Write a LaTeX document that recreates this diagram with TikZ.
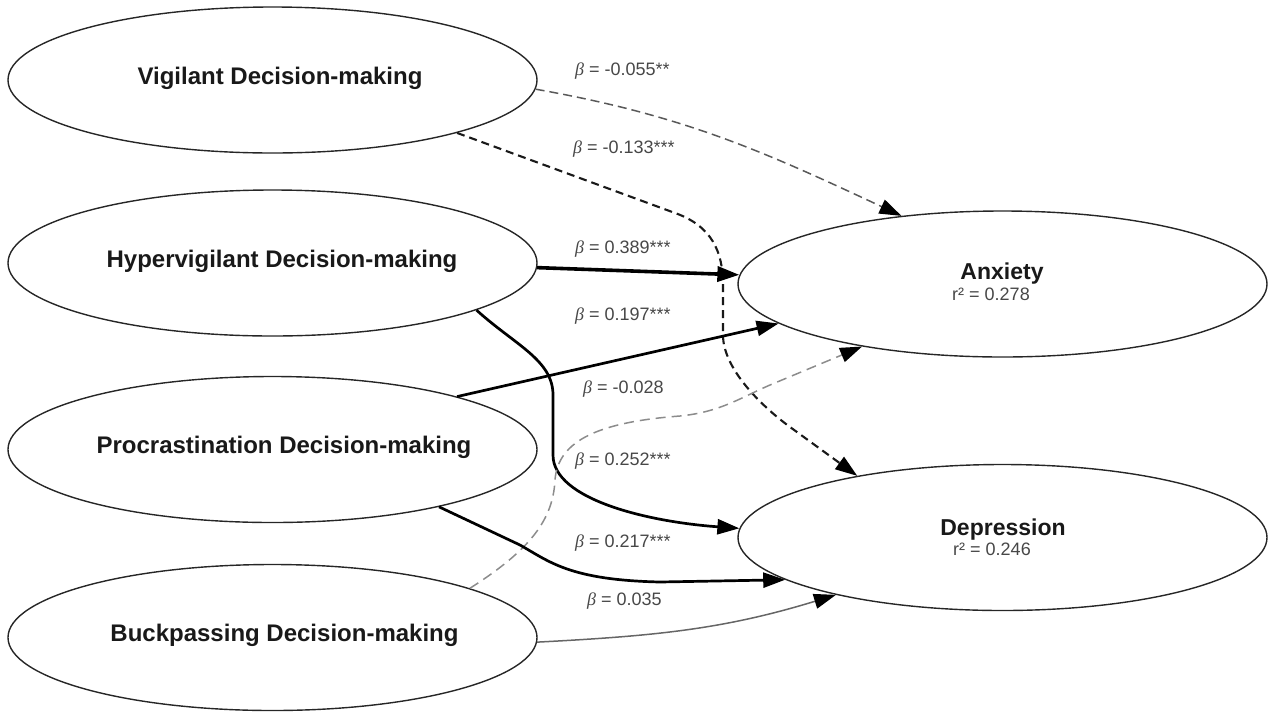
\documentclass[tikz,border=0pt]{standalone}
\usepackage{fontspec}
\setmainfont{Liberation Sans}
\newfontfamily\betafont{Liberation Serif}
\usetikzlibrary{shapes.geometric,arrows.meta}
\newcommand{\bt}{{\betafont\itshape β}}
\begin{document}
\begin{tikzpicture}[x=1pt,y=-1pt,
  ell/.style={draw=black!85, line width=1.4pt, ellipse, minimum width=529pt, minimum height=146pt, inner sep=0pt},
  ttl/.style={font=\fontsize{23}{26}\selectfont\bfseries, text=black!90, inner sep=0pt, anchor=base},
  lttl/.style={ttl, font=\fontsize{24}{26}\selectfont\bfseries},
  rsq/.style={font=\fontsize{18}{20}\selectfont, text=black!72, inner sep=0pt, anchor=base},
  coef/.style={font=\fontsize{18}{20}\selectfont, text=black!72, inner sep=0pt, anchor=base west},
  tipx/.style={-{Triangle[length=22pt,width=15pt,color=black]}},
  heavy/.style={tipx, line width=3.6pt, black},
  thicktwo/.style={tipx, line width=2.7pt, black},
  dashdark/.style={tipx, line width=2.1pt, black!90, dash pattern=on 8pt off 5pt},
  dashgrey/.style={tipx, line width=1.5pt, black!65, dash pattern=on 9pt off 5pt},
  dashlight/.style={tipx, line width=1.5pt, black!45, dash pattern=on 10pt off 6pt},
  thinsolid/.style={tipx, line width=1.5pt, black!60}]
\useasboundingbox (0,0) rectangle (1274,713);

% ellipses
\node[ell] (vig) at (272.5,80) {};
\node[ell] (hyp) at (272.5,263) {};
\node[ell] (pro) at (272.5,449.5) {};
\node[ell] (buc) at (272.5,637.5) {};
\node[ell] (anx) at (1002.5,284) {};
\node[ell] (dep) at (1002.5,537.5) {};

% titles
\node[lttl] (vigt) at (280,84) {Vigilant Decision-making};
\node[lttl] (hypt) at (282,267) {Hypervigilant Decision-making};
\node[lttl] (prot) at (284,453.5) {Procrastination Decision-making};
\node[lttl] (buct) at (284.5,641.5) {Buckpassing Decision-making};
\node[ttl] (anxt) at (1002,279.5) {Anxiety};
\node[rsq] (anxr) at (991,300) {r² = 0.278};
\node[ttl] (dept) at (1003,535) {Depression};
\node[rsq] (depr) at (992,555) {r² = 0.246};

% connectors
\draw[dashgrey] (vig.-2) to[out=-10,in=155] (anx.146);
\draw[dashdark] (vig.-16.5) -- (675,213) .. controls (712,226) and (723,252) .. (723,285) -- (723,335) .. controls (723,368) and (760,405) .. (790,427) -- (dep.157);
\draw[heavy] (hyp.-1) -- (anx.178);
\draw[thicktwo] (hyp.-13) .. controls (515,345) and (553,360) .. (553,395) -- (553,455) .. controls (553,500) and (650,522) .. (dep.178);
\draw[thicktwo] (pro.16) -- (anx.190);
\draw[dashlight] (buc.14) .. controls (530,550) and (553,520) .. (555,480) .. controls (558,440) and (600,422) .. (680,416) .. controls (720,412) and (740,398) .. (770,385) -- (anx.204);
\draw[thicktwo] (pro.-19) -- (520,545) .. controls (550,562) and (570,580) .. (660,582) -- (dep.191);
\draw[thinsolid] (buc.-1) to[out=3,in=197] (dep.199);

% coefficients
\node[coef] (c1) at (575,75) {\bt{} = -0.055**};
\node[coef] (c2) at (573,153) {\bt{} = -0.133***};
\node[coef] (c3) at (575,253) {\bt{} = 0.389***};
\node[coef] (c4) at (575,320) {\bt{} = 0.197***};
\node[coef] (c5) at (583,393) {\bt{} = -0.028};
\node[coef] (c6) at (575,465) {\bt{} = 0.252***};
\node[coef] (c7) at (575,547) {\bt{} = 0.217***};
\node[coef] (c8) at (587,605) {\bt{} = 0.035};
\end{tikzpicture}
\end{document}
